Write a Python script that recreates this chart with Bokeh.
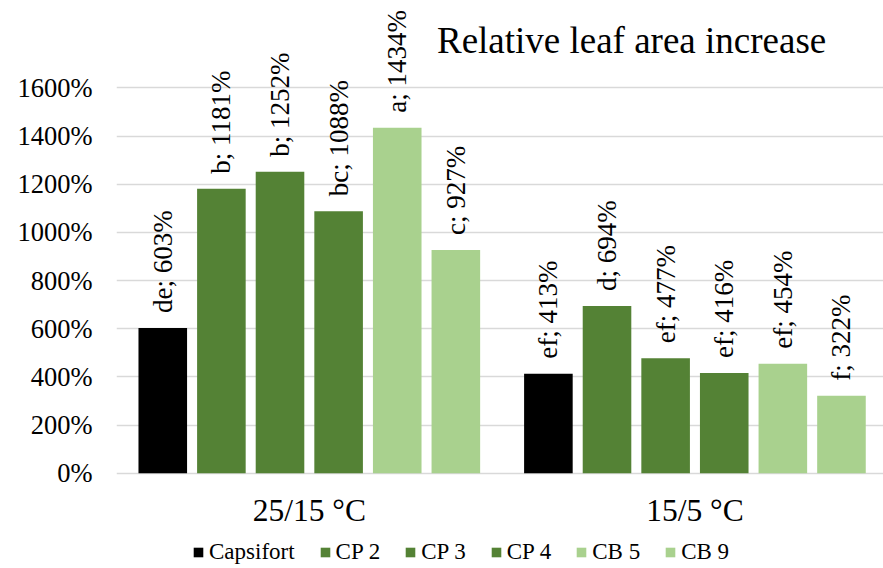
import numpy as np
from bokeh.plotting import figure
from bokeh.models import (Range1d, FixedTicker, PrintfTickFormatter, Legend,
                          LegendItem, Label)
from bokeh.core.properties import value
from bokeh.embed import file_html
from bokeh.resources import INLINE

# ---- data ----
categories = ["25/15 °C", "15/5 °C"]
series = ["Capsifort", "CP 2", "CP 3", "CP 4", "CB 5", "CB 9"]
values_25_15 = [603, 1181, 1252, 1088, 1434, 927]
values_15_5 = [413, 694, 477, 416, 454, 322]
letters_25_15 = ["de", "b", "b", "bc", "a", "c"]
letters_15_5 = ["ef", "d", "ef", "ef", "ef", "f"]
colors = ["#000000", "#548235", "#548235", "#548235", "#A9D18E", "#A9D18E"]
y_ticks = [0, 200, 400, 600, 800, 1000, 1200, 1400, 1600]
title_text = "Relative leaf area increase"

FONT = "Liberation Serif"

p = figure(frame_width=767, frame_height=568, output_backend="svg",
           toolbar_location=None,
           x_range=Range1d(-0.5, 1.489), y_range=Range1d(-395.7, 1962.6),
           min_border_left=116, min_border_right=0, min_border_top=0,
           min_border_bottom=0)
p.outline_line_color = None
p.background_fill_color = "white"
p.border_fill_color = "white"

# axes
p.yaxis.ticker = FixedTicker(ticks=y_ticks)
p.yaxis.formatter = PrintfTickFormatter(format="%d%%")
p.yaxis.axis_line_color = None
p.yaxis.major_tick_line_color = None
p.yaxis.minor_tick_line_color = None
p.yaxis.major_label_standoff = 18
p.yaxis.major_label_text_font = FONT
p.yaxis.major_label_text_font_size = "26.5px"
p.yaxis.major_label_text_color = "#000000"

p.xaxis.fixed_location = 0
p.xaxis.ticker = FixedTicker(ticks=list(range(len(categories))))
p.xaxis.major_label_overrides = {i: c for i, c in enumerate(categories)}
p.xaxis.axis_line_color = None
p.xaxis.major_tick_line_color = None
p.xaxis.minor_tick_line_color = None
p.xaxis.major_tick_out = 0
p.xaxis.major_label_standoff = 20
p.xaxis.major_label_text_font = FONT
p.xaxis.major_label_text_font_size = "31.5px"
p.xaxis.major_label_text_color = "#000000"

p.xgrid.grid_line_color = None
p.ygrid.ticker = FixedTicker(ticks=y_ticks)
p.ygrid.grid_line_color = "#D9D9D9"
p.ygrid.grid_line_width = 1.3

step = 0.152
bar_w = 0.126
items = []
for i, s in enumerate(series):
    off = (i - 2.5) * step
    xs = [k + off for k in range(len(categories))]
    tops = [values_25_15[i], values_15_5[i]]
    labs = [f"{letters_25_15[i]}; {values_25_15[i]}%",
            f"{letters_15_5[i]}; {values_15_5[i]}%"]
    r = p.vbar(x=xs, top=tops, width=bar_w, fill_color=colors[i], line_color=None)
    p.text(x=xs, y=tops, text=labs, angle=np.pi / 2, text_align="left",
           text_baseline="middle", y_offset=-15, text_font=value(FONT),
           text_font_size="27px", text_color="#000000")
    items.append(LegendItem(label=s, renderers=[r]))

legend = Legend(items=items, orientation="horizontal", location=(76, 3),
                glyph_width=12, glyph_height=12, label_standoff=5, spacing=24,
                padding=0, margin=0, border_line_color=None,
                background_fill_alpha=0, label_text_font=FONT,
                label_text_font_size="23px", label_text_color="#000000")
p.add_layout(legend)

title = Label(x=0.331, y=1798, text=title_text, text_font=FONT,
              text_font_size="37px", text_align="left",
              text_baseline="alphabetic", text_color="#000000")
p.add_layout(title)

open("out.html", "w").write(file_html(p, INLINE))
